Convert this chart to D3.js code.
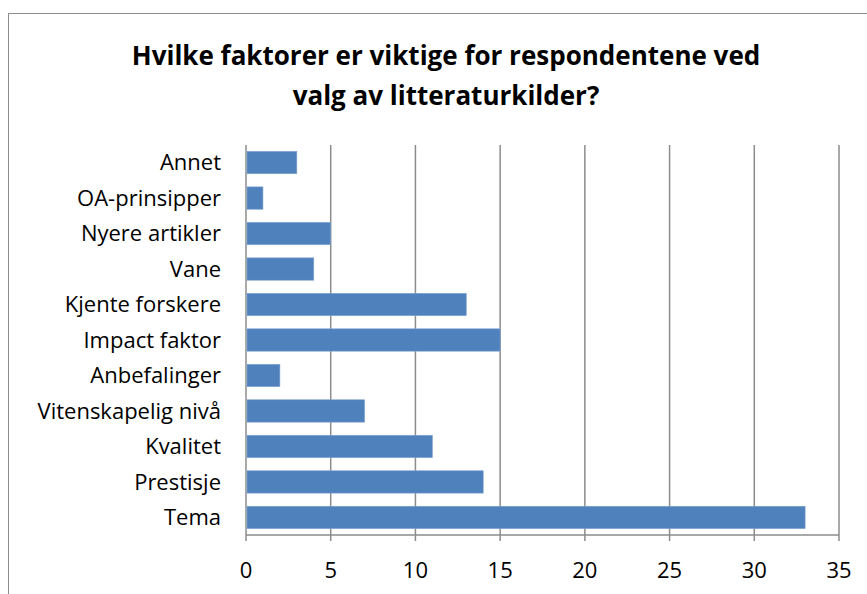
<!DOCTYPE html>
<html>
<head>
<meta charset="utf-8">
<script src="https://cdn.jsdelivr.net/npm/d3@7"></script>
<style>
  body { margin: 0; background: #fff; }
  text { font-family: "Open Sans", sans-serif; }
</style>
</head>
<body>
<div id="chart-area"></div>
<script>
// data
let categories = ["Annet", "OA-prinsipper", "Nyere artikler", "Vane", "Kjente forskere",
  "Impact faktor", "Anbefalinger", "Vitenskapelig nivå", "Kvalitet", "Prestisje", "Tema"];
let values = [3, 1, 5, 4, 13, 15, 2, 7, 11, 14, 33];
let xTicks = [0, 5, 10, 15, 20, 25, 30, 35];
let titleLines = ["Hvilke faktorer er viktige for respondentene ved", "valg av litteraturkilder?"];

let data = categories.map(function(c, i){ return {name: c, value: values[i]}; });

let w = 867;
let h = 594;
let plotLeft = 246, plotRight = 839, plotTop = 145, plotBottom = 535;

let svg = d3.select("#chart-area")
    .append("svg")
    .attr("width", w)
    .attr("height", h);

// chart border
svg.append("rect")
    .attr("x", 8.5).attr("y", 13.5)
    .attr("width", 870).attr("height", 600)
    .attr("fill", "none")
    .attr("stroke", "#8c8c8c")
    .attr("stroke-width", 1);

// title
svg.selectAll(".title")
    .data(titleLines)
    .enter()
    .append("text")
    .attr("class", "title")
    .attr("x", 446)
    .attr("y", function(d, i){ return 65 + i * 40; })
    .attr("text-anchor", "middle")
    .attr("font-size", 26)
    .attr("font-weight", "bold")
    .attr("fill", "#000")
    .text(function(d){ return d; });

let x = d3.scaleLinear()
    .domain([0, 35])
    .range([plotLeft, plotRight]);

let y = d3.scaleBand()
    .domain(categories)
    .range([plotTop, plotBottom])
    .paddingInner(0.37)
    .paddingOuter(0.18);

// vertical gridlines
svg.selectAll(".grid")
    .data(xTicks)
    .enter()
    .append("line")
    .attr("x1", function(d){ return x(d); })
    .attr("x2", function(d){ return x(d); })
    .attr("y1", plotTop)
    .attr("y2", plotBottom + 6)
    .attr("stroke", "#8c8c8c")
    .attr("stroke-width", 1.5);

// bottom axis line
svg.append("line")
    .attr("x1", plotLeft).attr("x2", plotRight)
    .attr("y1", plotBottom).attr("y2", plotBottom)
    .attr("stroke", "#8c8c8c")
    .attr("stroke-width", 1.5);

// bars
svg.selectAll(".bar")
    .data(data)
    .enter()
    .append("rect")
    .attr("x", x(0) + 1)
    .attr("y", function(d){ return y(d.name); })
    .attr("width", function(d){ return x(d.value) - x(0) - 1; })
    .attr("height", y.bandwidth())
    .attr("fill", "#4f81bd")
    .attr("stroke", "#7fa3d0")
    .attr("stroke-width", 0.6);

// category labels
svg.selectAll(".cat")
    .data(data)
    .enter()
    .append("text")
    .attr("x", 221)
    .attr("y", function(d){ return y(d.name) + y.bandwidth() / 2; })
    .attr("dy", "0.35em")
    .attr("text-anchor", "end")
    .attr("font-size", 22)
    .attr("fill", "#000")
    .text(function(d){ return d.name; });

// tick labels
svg.selectAll(".tick-label")
    .data(xTicks)
    .enter()
    .append("text")
    .attr("x", function(d){ return x(d); })
    .attr("y", 570)
    .attr("dy", "0.35em")
    .attr("text-anchor", "middle")
    .attr("font-size", 22)
    .attr("fill", "#000")
    .text(function(d){ return d; });
</script>
</body>
</html>
